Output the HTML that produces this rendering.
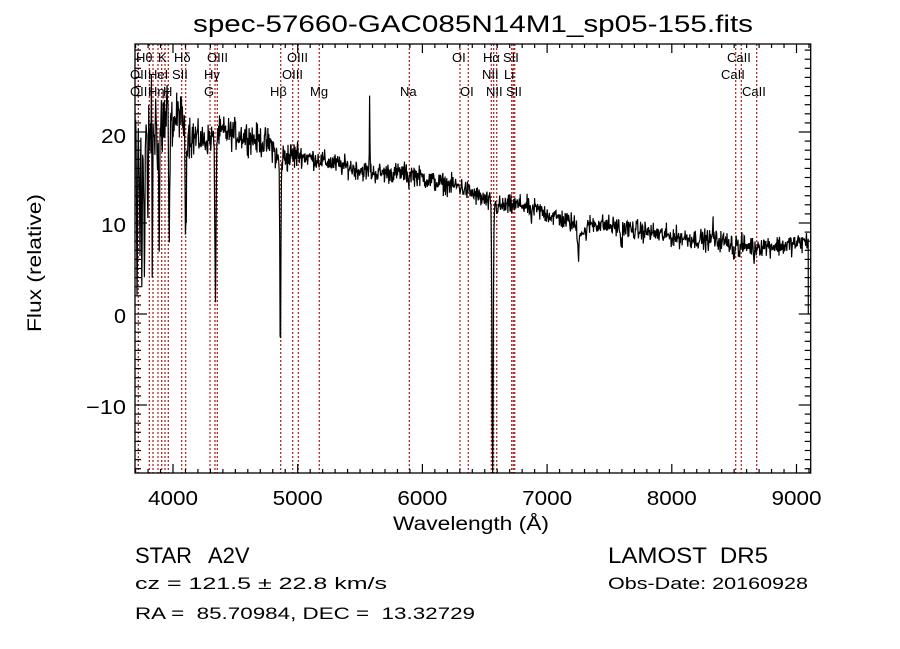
<!DOCTYPE html>
<html><head><meta charset="utf-8">
<style>
html,body{margin:0;padding:0;background:#fff;}
svg{display:block;}
text{font-family:"Liberation Sans",sans-serif;fill:#000;white-space:pre;}
</style></head>
<body>
<svg id="s" width="900" height="649" viewBox="0 0 900 649" xmlns="http://www.w3.org/2000/svg" xml:space="preserve">
<rect width="900" height="649" fill="#fff"/>
<defs><clipPath id="cp"><rect x="135" y="44" width="676" height="429"/></clipPath></defs>
<g id="lines" clip-path="url(#cp)"></g>
<g id="spec" clip-path="url(#cp)"></g>
<rect x="135" y="44" width="675.7" height="429" fill="none" stroke="#000" stroke-width="1.3"/>
<g id="ticks" stroke="#000" stroke-width="1.2"></g>
<g id="labs" font-size="13"></g>
<text x="473" y="32" font-size="24" text-anchor="middle" textLength="560" lengthAdjust="spacingAndGlyphs">spec-57660-GAC085N14M1_sp05-155.fits</text>
<g font-size="20">
<text x="173" y="505" text-anchor="middle" textLength="50" lengthAdjust="spacingAndGlyphs">4000</text>
<text x="297.7" y="505" text-anchor="middle" textLength="50" lengthAdjust="spacingAndGlyphs">5000</text>
<text x="422.4" y="505" text-anchor="middle" textLength="50" lengthAdjust="spacingAndGlyphs">6000</text>
<text x="547.1" y="505" text-anchor="middle" textLength="50" lengthAdjust="spacingAndGlyphs">7000</text>
<text x="671.8" y="505" text-anchor="middle" textLength="50" lengthAdjust="spacingAndGlyphs">8000</text>
<text x="796.5" y="505" text-anchor="middle" textLength="50" lengthAdjust="spacingAndGlyphs">9000</text>
<text x="126" y="143" text-anchor="end" textLength="25" lengthAdjust="spacingAndGlyphs">20</text>
<text x="126" y="232" text-anchor="end" textLength="25" lengthAdjust="spacingAndGlyphs">10</text>
<text x="126" y="323" text-anchor="end" textLength="12" lengthAdjust="spacingAndGlyphs">0</text>
<text x="126" y="414" text-anchor="end" textLength="40" lengthAdjust="spacingAndGlyphs">−10</text>
</g>
<text x="471" y="530" font-size="19" text-anchor="middle" textLength="156" lengthAdjust="spacingAndGlyphs">Wavelength (Å)</text>
<text transform="translate(41,263) rotate(-90)" font-size="19" text-anchor="middle" textLength="138" lengthAdjust="spacingAndGlyphs">Flux (relative)</text>
<text x="135" y="563" font-size="22">STAR</text>
<text x="208" y="563" font-size="22">A2V</text>
<text x="608" y="563" font-size="22" textLength="160" lengthAdjust="spacingAndGlyphs">LAMOST  DR5</text>
<text x="135" y="589" font-size="17" textLength="252" lengthAdjust="spacingAndGlyphs">cz = 121.5 ± 22.8 km/s</text>
<text x="608" y="589" font-size="17" textLength="200" lengthAdjust="spacingAndGlyphs">Obs-Date: 20160928</text>
<text x="135" y="619" font-size="17" textLength="340" lengthAdjust="spacingAndGlyphs">RA =  85.70984, DEC =  13.32729</text>
</svg>
<script>
(function(){
var NS="http://www.w3.org/2000/svg";
function X(l){return 173+(l-4000)*0.1247;}
function Y(f){return 314-9.1*f;}
function el(n,a,p){var e=document.createElementNS(NS,n);for(var k in a)e.setAttribute(k,a[k]);p.appendChild(e);return e;}
var seed=12345;function rnd(){seed=(seed*1103515245+12345)%2147483648;return seed/2147483648;}
function gn(){return (rnd()+rnd()+rnd()-1.5)*1.4;}
var t=document.getElementById('ticks');
for(var l=3700;l<=9100;l+=100){var x=X(l);if(x<135||x>810.7)continue;var L=(l%1000==0)?9:4;
el('line',{x1:x,y1:473,x2:x,y2:473-L},t);el('line',{x1:x,y1:44,x2:x,y2:44+L},t);}
for(var f=-17;f<=29;f++){var y=Y(f);if(y<44||y>473)continue;var L=(f%10==0)?12:6;
el('line',{x1:135,y1:y,x2:135+L,y2:y},t);el('line',{x1:810.7,y1:y,x2:810.7-L,y2:y},t);}
var lg=document.getElementById('lines');
var lx=[138.3,149.3,153,158,161.7,165,168.3,181.7,185.7,210,215,217.3,280.7,292.7,298.3,319.3,409.3,460,468.3,491.3,493.7,496.7,511.7,513.3,514.7,735.7,741.3,756.7];
lx.forEach(function(x){el('line',{x1:x,y1:44,x2:x,y2:473,stroke:'#b01818','stroke-width':1.2,'stroke-dasharray':'2,2'},lg);});
var lb=document.getElementById('labs');
var labs=[[136,62,'Hθ'],[158,62,'K'],[174,62,'Hδ'],[207,62,'OIII'],[287,62,'OIII'],[452,62,'OI'],[483,62,'Hα'],[503,62,'SII'],[727,62,'CaII'],
[130,79,'OII'],[148,79,'HeI'],[172,79,'SII'],[204,79,'Hγ'],[282,79,'OIII'],[482,79,'NII'],[504,79,'Li'],[721,79,'CaII'],
[130,96,'OII'],[148,96,'Hη'],[163,96,'H'],[204,96,'G'],[270,96,'Hβ'],[310,96,'Mg'],[400,96,'Na'],[460,96,'OI'],[486,96,'NII'],[506,96,'SII'],[742,96,'CaII']];
labs.forEach(function(a){var e=el('text',{x:a[0],y:a[1]},lb);e.textContent=a[2];});
var cont=[[3690,19],[3800,20],[3900,21],[4000,21],[4050,22],[4150,19.5],[4250,19],[4400,20],[4600,19.5],[4800,18.5],[4830,17],[5000,17.5],[5300,16.5],[5600,15.5],[5900,15.5],[6100,14.5],[6300,14],[6500,12.5],[6600,11.8],[6800,12],[7000,11],[7200,10],[7300,8.8],[7350,10],[7600,9.5],[8000,8.5],[8400,8.0],[8600,7.5],[8900,7.5],[9100,8]];
function C(l){for(var i=0;i<cont.length-1;i++){if(l<=cont[i+1][0]){var a=cont[i],b=cont[i+1];return a[1]+(b[1]-a[1])*(l-a[0])/(b[0]-a[0]);}}return 8;}
var ab=[[6563,30,5],[4861,22,4],[4340,17,5],[4102,12,5],[3970,14,4],[3889,13,4],[3835,14,3],[3798,14,3],[3771,18,3],[3750,16,3],[3734,15,3],[3712,20,3],[8498,1.5,4],[8542,1.5,4],[8662,1.5,4],[7250,3,5],[7595,2,6],[6870,1.5,5],[5577,-9.5,2],[8330,-3.5,2],[5890,1,4]];
var pts=[];
for(var l=3690;l<=9095;l+=3.5){
 var f=C(l);
 for(var i=0;i<ab.length;i++){var d=(l-ab[i][0])/ab[i][2];if(Math.abs(d)<4)f-=ab[i][1]*Math.exp(-0.5*d*d);}
 var amp=l<3960?4:(l<4200?1.8:(l<5000?1.2:0.8));
 f+=gn()*amp;
 pts.push(X(l).toFixed(1)+','+Y(f).toFixed(1));
}
pts.push(X(9095).toFixed(1)+','+Y(0).toFixed(1));
el('polyline',{points:pts.join(' '),fill:'none',stroke:'#000','stroke-width':1.2},document.getElementById('spec'));
})();
</script>
</body></html>
